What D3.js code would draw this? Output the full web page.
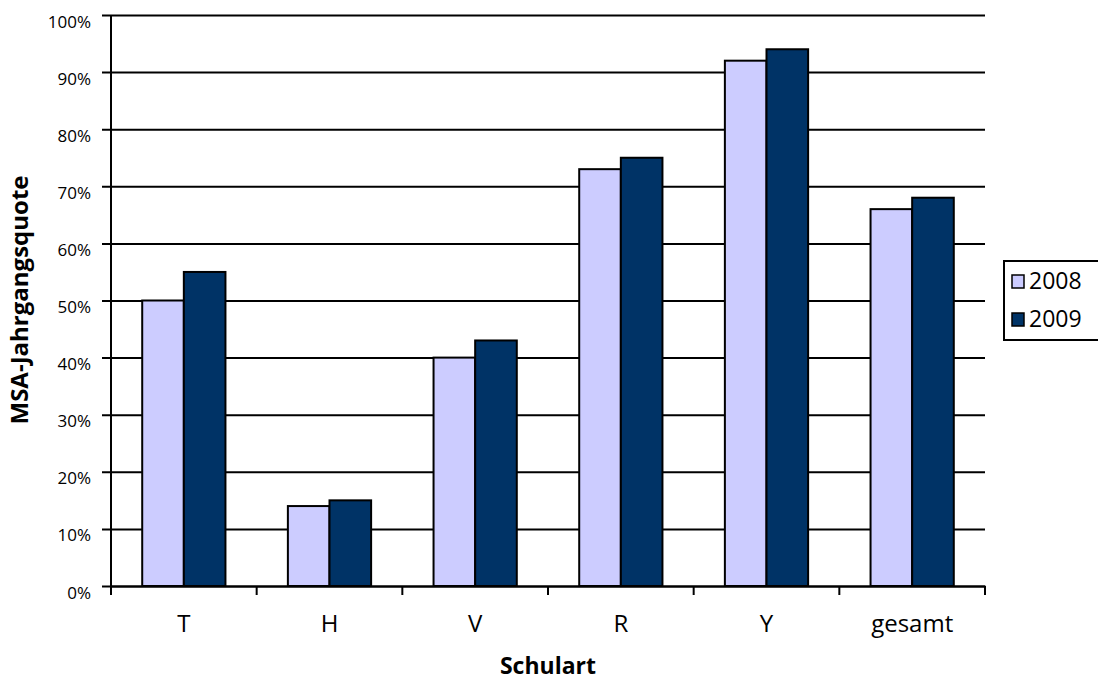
<!DOCTYPE html>
<html>
<head>
<meta charset="utf-8">
<script src="https://cdn.jsdelivr.net/npm/d3@7"></script>
<style>
  body { margin: 0; background: #fff; }
  svg text { font-family: "Open Sans", "DejaVu Sans", sans-serif; fill: #000; }
</style>
</head>
<body>
<div id="chart"></div>
<script>
const categories = ["T", "H", "V", "R", "Y", "gesamt"];
const years = ["2008", "2009"];
const values2008 = [50, 14, 40, 73, 92, 66];
const values2009 = [55, 15, 43, 75, 94, 68];
const yTicks = [0, 10, 20, 30, 40, 50, 60, 70, 80, 90, 100];
const colors = ["#ccccff", "#003366"];

const width = 1098;
const height = 682;
const plotL = 111, plotR = 985, plotT = 15, plotB = 586;

const data = categories.map((c, i) => ({ cat: c, vals: [values2008[i], values2009[i]] }));

const svg = d3.select("#chart").append("svg")
  .attr("width", width)
  .attr("height", height);

const x = d3.scaleBand().domain(categories).range([plotL, plotR]).paddingInner(0).paddingOuter(0);
const groupW = x.bandwidth() * 2 / 3.5;
const xSub = d3.scaleBand().domain(years).range([0, groupW]);
const y = d3.scaleLinear().domain([0, 100]).range([plotB, plotT]);

// gridlines + y ticks
const yAxis = d3.axisLeft(y)
  .tickValues(yTicks)
  .tickSize(-(plotR - plotL))
  .tickSizeOuter(0)
  .tickFormat(d => d + "%");
const gy = svg.append("g").attr("transform", `translate(${plotL},0)`).call(yAxis);
gy.select(".domain").remove();
gy.selectAll(".tick line").attr("x1", -9).attr("stroke", "#000").attr("stroke-width", 2);
gy.selectAll(".tick text").attr("x", -20).attr("y", 12).attr("dy", 0).style("font-size", "17px");

// bars
const groups = svg.append("g").selectAll("g").data(data).join("g")
  .attr("transform", d => `translate(${x(d.cat) + (x.bandwidth() - groupW) / 2},0)`);
groups.selectAll("rect").data(d => d.vals.map((v, i) => ({ v, yr: years[i] }))).join("rect")
  .attr("x", d => xSub(d.yr))
  .attr("y", d => y(d.v))
  .attr("width", xSub.bandwidth())
  .attr("height", d => y(0) - y(d.v))
  .attr("fill", (d, i) => colors[i])
  .attr("stroke", "#000")
  .attr("stroke-width", 2);

// left axis line
svg.append("line").attr("x1", plotL).attr("x2", plotL).attr("y1", plotT).attr("y2", plotB)
  .attr("stroke", "#000").attr("stroke-width", 2);

// x axis
const gx = svg.append("g").attr("transform", `translate(0,${plotB})`)
  .call(d3.axisBottom(x).tickSize(0).tickSizeOuter(0));
gx.select(".domain").attr("stroke", "#000").attr("stroke-width", 2);
gx.selectAll(".tick text").attr("y", 46).attr("dy", 0).style("font-size", "24px");
const bounds = categories.map(c => x(c)).concat([plotR]);
svg.append("g").selectAll("line").data(bounds).join("line")
  .attr("x1", d => d).attr("x2", d => d)
  .attr("y1", plotB).attr("y2", plotB + 9)
  .attr("stroke", "#000").attr("stroke-width", 2);

// axis titles
svg.append("text").attr("x", 548).attr("y", 674).attr("text-anchor", "middle")
  .style("font-size", "23px").style("font-weight", "bold").text("Schulart");
svg.append("text").attr("transform", "translate(28,300) rotate(-90)").attr("text-anchor", "middle")
  .style("font-size", "24px").style("font-weight", "bold").text("MSA-Jahrgangsquote");

// legend
const lg = svg.append("g");
lg.append("rect").attr("x", 1004).attr("y", 261).attr("width", 100).attr("height", 79)
  .attr("fill", "#fff").attr("stroke", "#000").attr("stroke-width", 2);
years.forEach((yr, i) => {
  const base = 289 + i * 38;
  lg.append("rect").attr("x", 1012).attr("y", base - 14).attr("width", 12).attr("height", 13)
    .attr("fill", colors[i]).attr("stroke", "#000").attr("stroke-width", 1.5);
  lg.append("text").attr("x", 1029).attr("y", base).style("font-size", "23px").text(yr);
});
</script>
</body>
</html>
